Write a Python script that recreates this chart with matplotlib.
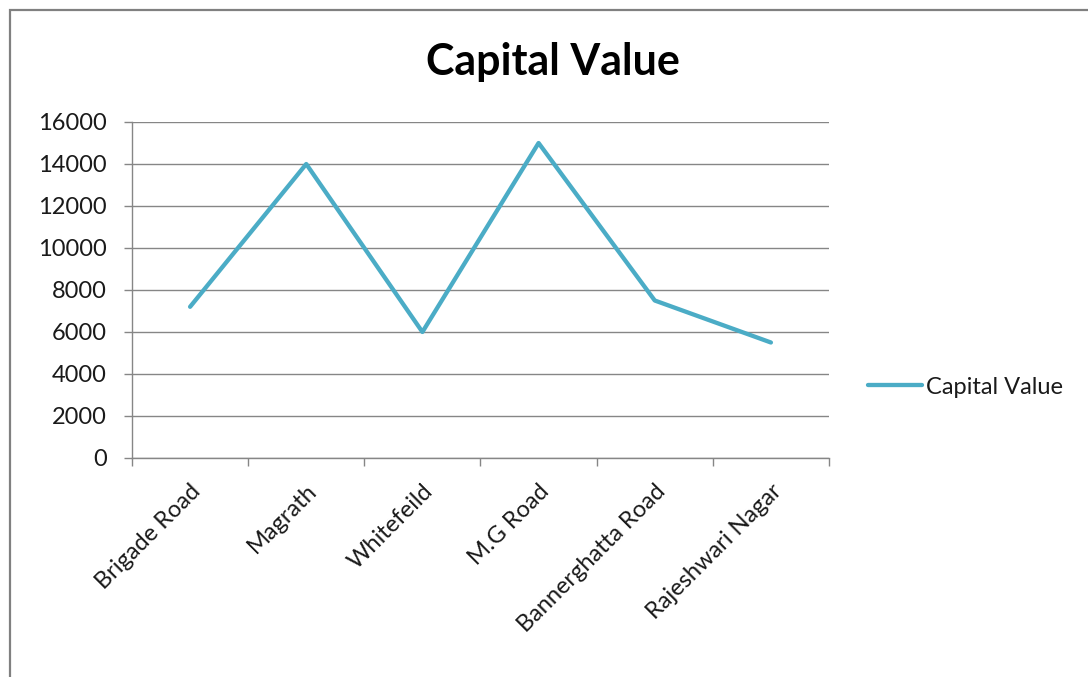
import matplotlib

matplotlib.use("Agg")
import matplotlib.pyplot as plt
from matplotlib.patches import Rectangle

plt.rcParams["font.family"] = ["Lato", "DejaVu Sans"]

# Capital value by locality.
LOCALITIES = [
    "Brigade Road",
    "Magrath",
    "Whitefeild",
    "M.G Road",
    "Bannerghatta Road",
    "Rajeshwari Nagar",
]
CAPITAL_VALUE = [7200, 14000, 6000, 15000, 7500, 5500]
Y_TICKS = [0, 2000, 4000, 6000, 8000, 10000, 12000, 14000, 16000]

LINE = "#4bacc6"
GRID = "#868686"
INK = "#000000"
LABEL_SIZE = 17

fig = plt.figure(figsize=(10.88, 6.77), dpi=100)
ax = fig.add_axes([132 / 1088, 1 - 458 / 677, 697 / 1088, 336 / 677])

# Outer chart border (only left/top visible, the rest is cropped).
fig.patches.append(
    Rectangle(
        (10 / 1088, -0.1), 1.2, 1 - 10 / 677 + 0.1,
        transform=fig.transFigure, fill=False, edgecolor="#808080", linewidth=1.6,
    )
)

xs = range(len(LOCALITIES))
ax.plot(xs, CAPITAL_VALUE, color=LINE, linewidth=3.1, label="Capital Value",
        solid_capstyle="round", zorder=3)

ax.set_xlim(-0.5, len(LOCALITIES) - 0.5)
ax.set_ylim(0, 16000)
ax.set_yticks(Y_TICKS)
ax.set_yticklabels([str(v) for v in Y_TICKS])
ax.yaxis.grid(True, color=GRID, linewidth=1.0)
ax.set_axisbelow(True)

# Category tick marks sit on the boundaries, labels at the centres.
ax.set_xticks([i - 0.5 for i in range(len(LOCALITIES) + 1)])
ax.set_xticklabels([])
ax.set_xticks(list(xs), minor=True)
ax.set_xticklabels(LOCALITIES, minor=True, rotation=45, ha="right",
                   rotation_mode="anchor", fontsize=LABEL_SIZE, color="#1a1a1a")
ax.tick_params(axis="x", which="minor", length=0, pad=16)
ax.tick_params(axis="x", which="major", length=6, color=GRID, width=1.0)
ax.tick_params(axis="y", length=6, color=GRID, width=1.0, labelsize=LABEL_SIZE,
               labelcolor="#1a1a1a", pad=12)

for side in ("top", "right"):
    ax.spines[side].set_visible(False)
for side in ("left", "bottom"):
    ax.spines[side].set_color(GRID)
    ax.spines[side].set_linewidth(1.0)

fig.text(553 / 1088, 1 - 62 / 677, "Capital Value", ha="center", va="center",
         fontsize=31, fontweight="bold", color=INK)

ax.legend(loc="center left", bbox_to_anchor=(868 / 1088, 1 - 387 / 677),
          bbox_transform=fig.transFigure, frameon=False, fontsize=LABEL_SIZE,
          labelcolor="#1a1a1a", handlelength=2.3, handletextpad=0.17,
          borderaxespad=0, borderpad=0)

fig.savefig("out.png", dpi=100)
